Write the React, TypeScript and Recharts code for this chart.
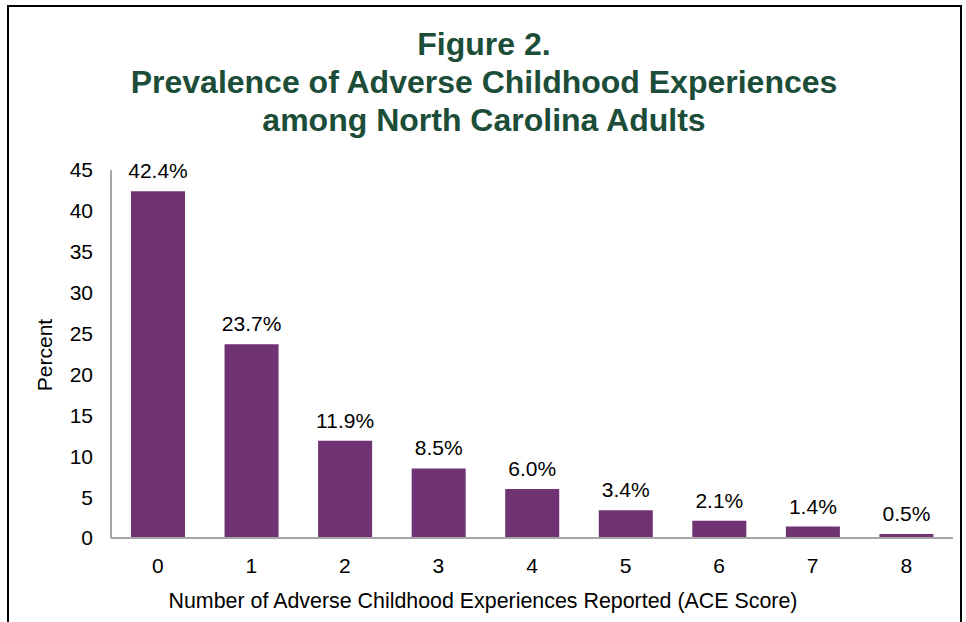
import React from "react";
import { Bar, BarChart, LabelList, XAxis, YAxis } from "recharts";

const aceScores = ["0", "1", "2", "3", "4", "5", "6", "7", "8"];
const percentValues = [42.4, 23.7, 11.9, 8.5, 6.0, 3.4, 2.1, 1.4, 0.5];
const yTicks = [0, 5, 10, 15, 20, 25, 30, 35, 40, 45];

const titleLines = [
  "Figure 2.",
  "Prevalence of Adverse Childhood Experiences",
  "among North Carolina Adults",
];

const FONT = "'Liberation Sans', Arial, sans-serif";

export default function App() {
  const chartData = aceScores.map((score, i) => ({
    score,
    percent: percentValues[i],
  }));

  return (
    <div
      style={{
        position: "absolute",
        left: 0,
        top: 0,
        width: 966,
        height: 622,
        overflow: "hidden",
        background: "#fff",
        fontFamily: FONT,
      }}
    >
      <div
        style={{
          position: "absolute",
          left: 7,
          top: 5,
          width: 955,
          height: 700,
          boxSizing: "border-box",
          border: "2px solid #000",
        }}
      />
      <div
        style={{
          position: "absolute",
          left: 0,
          top: 25,
          width: 968,
          textAlign: "center",
          color: "#1b4d38",
          fontWeight: 700,
          fontSize: 32,
          lineHeight: "38px",
        }}
      >
        {titleLines.map((line) => (
          <div key={line}>{line}</div>
        ))}
      </div>
      <div
        style={{
          position: "absolute",
          left: 45,
          top: 355,
          transform: "translate(-50%, -50%) rotate(-90deg)",
          fontSize: 21,
          color: "#000",
          whiteSpace: "nowrap",
        }}
      >
        Percent
      </div>
      <div style={{ position: "absolute", left: 0, top: 0 }}>
        <BarChart
          width={966}
          height={622}
          data={chartData}
          margin={{ top: 170, right: 13, left: 0, bottom: 0 }}
        >
          <XAxis
            dataKey="score"
            height={84}
            tickLine={false}
            axisLine={{ stroke: "#a6a6a6", strokeWidth: 2 }}
            tick={{ fill: "#000", fontSize: 21, fontFamily: FONT }}
            tickMargin={14}
          />
          <YAxis
            width={111}
            domain={[0, 45]}
            ticks={yTicks}
            interval={0}
            tickLine={false}
            axisLine={{ stroke: "#a6a6a6", strokeWidth: 2 }}
            tick={{ fill: "#000", fontSize: 21, fontFamily: FONT }}
            tickMargin={12}
          />
          <Bar
            dataKey="percent"
            fill="#6f3272"
            barSize={54}
            isAnimationActive={false}
          >
            <LabelList
              dataKey="percent"
              position="top"
              offset={13}
              fill="#000"
              fontSize={21}
              fontFamily={FONT}
              formatter={(v: number) => `${Number(v).toFixed(1)}%`}
            />
          </Bar>
        </BarChart>
      </div>
      <div
        style={{
          position: "absolute",
          left: 0,
          top: 588,
          width: 966,
          textAlign: "center",
          fontSize: 21.4,
          lineHeight: "26px",
          color: "#000",
          whiteSpace: "nowrap",
        }}
      >
        Number of Adverse Childhood Experiences Reported (ACE Score)
      </div>
    </div>
  );
}
